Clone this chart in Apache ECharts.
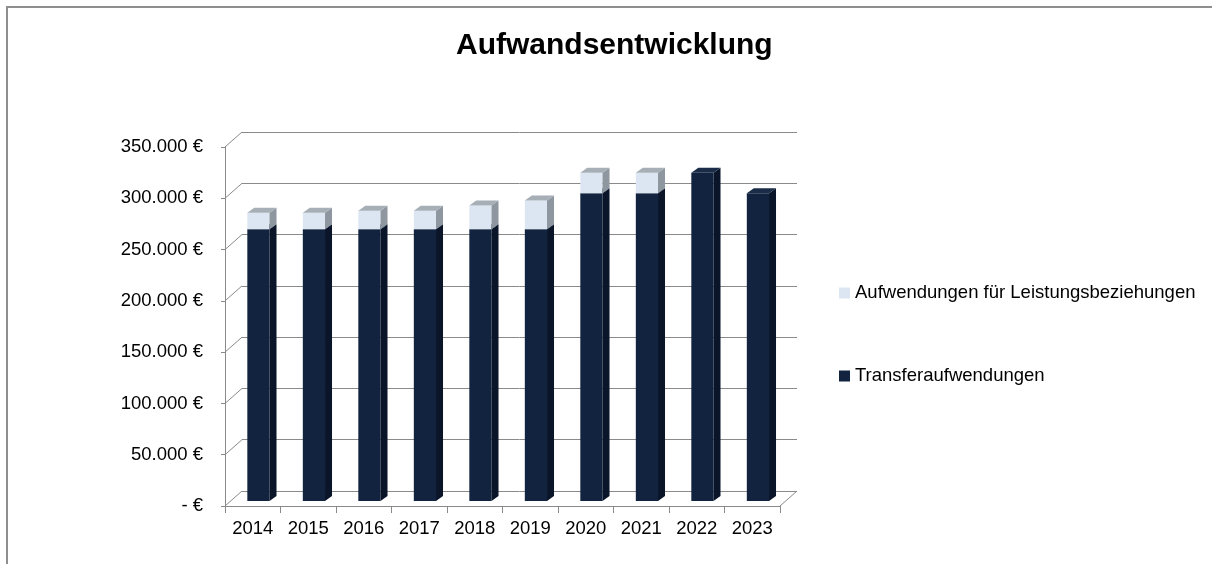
<!DOCTYPE html>
<html>
<head>
<meta charset="utf-8">
<script src="https://cdn.jsdelivr.net/npm/echarts@6/dist/echarts.min.js"></script>
<style>
  html, body { margin: 0; padding: 0; background: #ffffff; }
  #chart { width: 1212px; height: 564px; }
</style>
</head>
<body>
<div id="chart"></div>
<script>
// Years on the category axis
const years = ['2014', '2015', '2016', '2017', '2018', '2019', '2020', '2021', '2022', '2023'];
// Transfer expenses (lower stack segment), in €
const transferaufwendungen = [265000, 265000, 265000, 265000, 265000, 265000, 300000, 300000, 320000, 300000];
// Expenses for service relationships (upper stack segment), in €
const leistungsbeziehungen = [16000, 16000, 18000, 18000, 23000, 28000, 20000, 20000, 0, 0];
// Value-axis ticks
const yTicks = [0, 50000, 100000, 150000, 200000, 250000, 300000, 350000];

const SERIES_TRANSFER = 'Transferaufwendungen';
const SERIES_LEISTUNG = 'Aufwendungen für Leistungsbeziehungen';

// Pseudo-3D depth of the chart box (back wall offset from front plane)
const DEPTH_X = 17;
const DEPTH_Y = 15;
// Depth of each bar block
const BAR_DX = 7;
const BAR_DY = 5;

const AXIS_GRAY = '#8a8a8a';
const FONT = '"Liberation Sans", Arial, sans-serif';

function euro(v) {
  if (v === 0) return '- €';
  return String(v).replace(/\B(?=(\d{3})+(?!\d))/g, '.') + ' €';
}

// Draws one stacked segment as a box: front, side and top faces
function boxRenderer(colors) {
  return function (params, api) {
    const i = api.value(0);
    const lo = api.value(1);
    const hi = api.value(2);
    if (!(hi > lo)) return null;
    const top = api.coord([i, hi]);
    const bot = api.coord([i, lo]);
    const w = api.size([1, 0])[0] * 0.4;
    const ox = DEPTH_X / 3, oy = DEPTH_Y / 3;
    const x0 = top[0] - w / 2 + ox;
    const x1 = x0 + w;
    const yT = top[1] - oy;
    const yB = bot[1] - oy;
    return {
      type: 'group',
      children: [
        { type: 'polygon', shape: { points: [[x0, yT], [x1, yT], [x1, yB], [x0, yB]] },
          style: { fill: colors.front } },
        { type: 'polygon', shape: { points: [[x1, yT], [x1 + BAR_DX, yT - BAR_DY], [x1 + BAR_DX, yB - BAR_DY], [x1, yB]] },
          style: { fill: colors.side } },
        { type: 'polygon', shape: { points: [[x0, yT], [x0 + BAR_DX, yT - BAR_DY], [x1 + BAR_DX, yT - BAR_DY], [x1, yT]] },
          style: { fill: colors.top } }
      ]
    };
  };
}

const transferData = years.map((y, i) => [i, 0, transferaufwendungen[i]]);
const leistungData = years.map((y, i) => [i, transferaufwendungen[i], transferaufwendungen[i] + leistungsbeziehungen[i]]);

const chart = echarts.init(document.getElementById('chart'), null, { renderer: 'canvas' });

chart.setOption({
  animation: false,
  backgroundColor: '#ffffff',
  title: {
    text: 'Aufwandsentwicklung',
    left: 451,
    top: 26,
    textStyle: { fontFamily: FONT, fontSize: 30, fontWeight: 'bold', color: '#000000' }
  },
  legend: {
    orient: 'vertical',
    left: 839,
    top: 283,
    padding: 0,
    itemWidth: 11,
    itemHeight: 11,
    itemGap: 63,
    icon: 'rect',
    data: [SERIES_LEISTUNG, SERIES_TRANSFER],
    textStyle: { fontFamily: FONT, fontSize: 18.5, color: '#000000', lineHeight: 20 }
  },
  graphic: [
    {
      type: 'rect',
      shape: { x: 7, y: 7, width: 1400, height: 800 },
      style: { fill: 'none', stroke: '#8f8f8f', lineWidth: 2 },
      silent: true
    }
  ],
  grid: [
    // front plane (axes, labels, bars)
    { left: 225, top: 147, width: 555, height: 359 },
    // back wall (grid lines)
    { left: 225 + DEPTH_X, top: 147 - DEPTH_Y, width: 555, height: 359 }
  ],
  xAxis: [
    {
      gridIndex: 0,
      type: 'category',
      data: years,
      boundaryGap: true,
      axisLine: { show: true, lineStyle: { color: AXIS_GRAY, width: 1 } },
      axisTick: { show: true, length: 7, lineStyle: { color: AXIS_GRAY } },
      axisLabel: { fontFamily: FONT, fontSize: 18.5, color: '#000000', margin: 13 },
      splitLine: { show: false }
    },
    {
      gridIndex: 1,
      type: 'category',
      data: years,
      show: false
    }
  ],
  yAxis: [
    {
      gridIndex: 0,
      type: 'value',
      min: 0,
      max: 350000,
      interval: 50000,
      axisLine: { show: true, lineStyle: { color: AXIS_GRAY, width: 1 } },
      axisTick: { show: true, length: 4, lineStyle: { color: AXIS_GRAY } },
      axisLabel: { fontFamily: FONT, fontSize: 18.5, color: '#000000', margin: 22, formatter: euro },
      splitLine: { show: false }
    },
    {
      gridIndex: 1,
      type: 'value',
      min: 0,
      max: 350000,
      interval: 50000,
      axisLine: { show: false },
      axisTick: { show: false },
      axisLabel: { show: false },
      splitLine: { show: true, lineStyle: { color: AXIS_GRAY, width: 1 } }
    }
  ],
  series: [
    {
      // diagonal edges joining the front axis with the back wall lines
      name: 'depthEdges',
      type: 'custom',
      xAxisIndex: 0,
      yAxisIndex: 0,
      silent: true,
      data: yTicks.map(v => [0, v]),
      renderItem: function (params, api) {
        const y = api.coord([0, api.value(1)])[1];
        const x = params.coordSys.x;
        return {
          type: 'line',
          shape: { x1: x, y1: y, x2: x + DEPTH_X, y2: y - DEPTH_Y },
          style: { stroke: AXIS_GRAY, lineWidth: 1 }
        };
      }
    },
    {
      // right edge of the floor
      name: 'floorEdge',
      type: 'custom',
      xAxisIndex: 0,
      yAxisIndex: 0,
      silent: true,
      data: [[0, 0]],
      renderItem: function (params, api) {
        const y = api.coord([0, 0])[1];
        const x = params.coordSys.x + params.coordSys.width;
        return {
          type: 'line',
          shape: { x1: x, y1: y, x2: x + DEPTH_X, y2: y - DEPTH_Y },
          style: { stroke: AXIS_GRAY, lineWidth: 1 }
        };
      }
    },
    {
      name: SERIES_TRANSFER,
      type: 'custom',
      xAxisIndex: 0,
      yAxisIndex: 0,
      itemStyle: { color: '#11233f' },
      data: transferData,
      renderItem: boxRenderer({ front: '#11233f', side: '#0a1529', top: '#1a2c48' })
    },
    {
      name: SERIES_LEISTUNG,
      type: 'custom',
      xAxisIndex: 0,
      yAxisIndex: 0,
      itemStyle: { color: '#dce6f2' },
      data: leistungData,
      renderItem: boxRenderer({ front: '#dce6f2', side: '#8e979f', top: '#a6aeb6' })
    }
  ]
});
</script>
</body>
</html>
